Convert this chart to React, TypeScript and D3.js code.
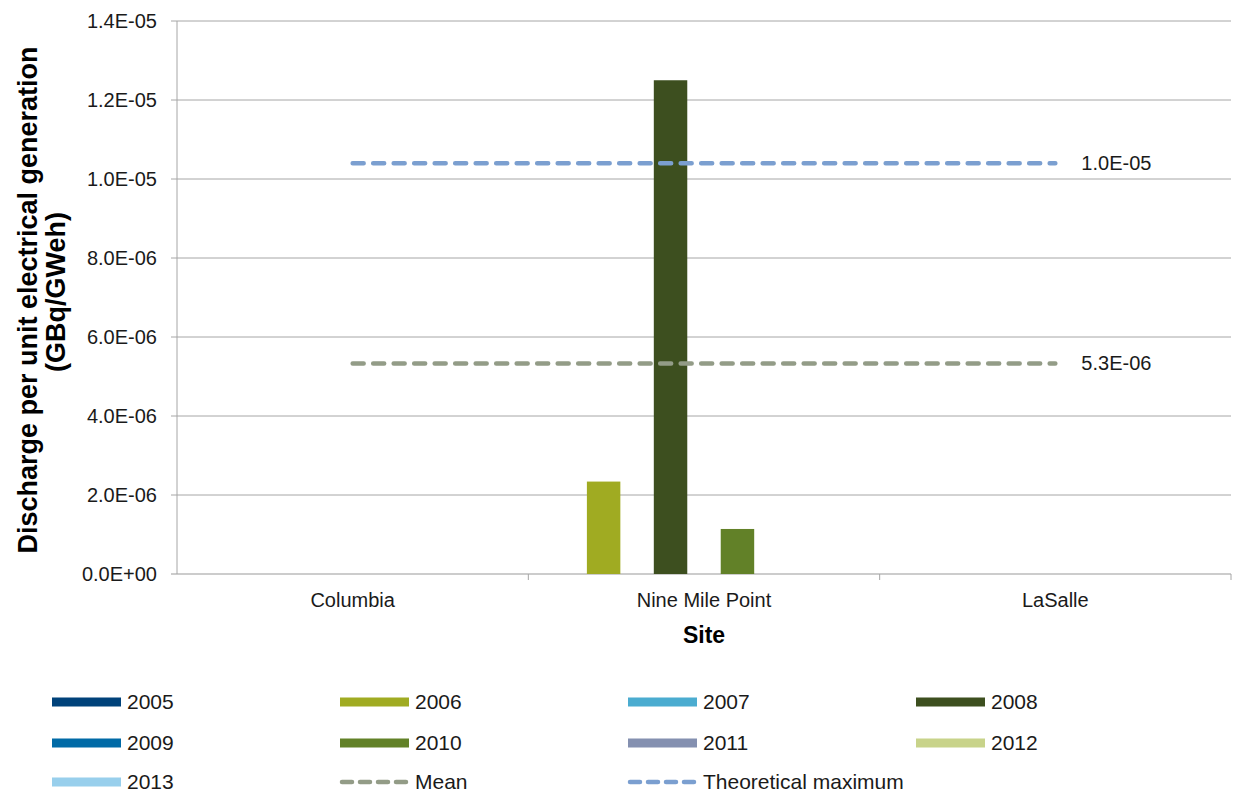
import React from 'react';
import * as d3 from 'd3';

const sites = ['Columbia', 'Nine Mile Point', 'LaSalle'];
const years = ['2005', '2006', '2007', '2008', '2009', '2010', '2011', '2012', '2013'];
const yearColors = ['#00427A', '#A0AB22', '#4BACD0', '#3D4F1F', '#006AA6', '#628128', '#8490B0', '#C8D38A', '#98CFEC'];
// values per year, per site (null = no data)
const v2005 = [null, null, null];
const v2006 = [null, 2.34e-6, null];
const v2007 = [null, null, null];
const v2008 = [null, 1.25e-5, null];
const v2009 = [null, null, null];
const v2010 = [null, 1.14e-6, null];
const v2011 = [null, null, null];
const v2012 = [null, null, null];
const v2013 = [null, null, null];
const meanValue = 5.33e-6;
const theoreticalMax = 1.04e-5;
const yTicks = [0, 2e-6, 4e-6, 6e-6, 8e-6, 1e-5, 1.2e-5, 1.4e-5];

const seriesValues = [v2005, v2006, v2007, v2008, v2009, v2010, v2011, v2012, v2013];

const W = 1234;
const H = 793;
const margin = { left: 177, right: 3, top: 21, bottom: 219 };
const font = 'Arial, "Liberation Sans", sans-serif';
const ink = '#1a1a1a';

export default function App() {
  const x = d3.scaleBand().domain(sites).range([margin.left, W - margin.right]);
  const inner = d3.scaleBand().domain(years).range([0, x.bandwidth()]).paddingOuter(0.75).paddingInner(0);
  const y = d3.scaleLinear().domain([0, 1.4e-5]).range([H - margin.bottom, margin.top]);
  const fmt = (v: number) => v.toExponential(1).toUpperCase().replace(/E([+-])(\d)$/, 'E$10$2');

  const lineX0 = x(sites[0])! + x.bandwidth() / 2;
  const lineX1 = x(sites[sites.length - 1])! + x.bandwidth() / 2;

  const legendItems = [
    ...years.map((yr, i) => ({ label: yr, type: 'bar', color: yearColors[i] })),
    { label: 'Mean', type: 'dash', color: '#939C87' },
    { label: 'Theoretical maximum', type: 'dash', color: '#7B9FD0' },
  ];
  const legendCols = [52, 340, 628, 916];
  const legendRows = [702, 743, 782];

  return (
    <svg width={W} height={H} style={{ position: 'absolute', left: 0, top: 0 }} fontFamily={font}>
      {/* gridlines */}
      {yTicks.map((t) => (
        <line key={t} x1={margin.left - 6} x2={W - margin.right} y1={y(t)} y2={y(t)}
          stroke={t === 0 ? '#999' : '#A6A6A6'} strokeWidth={1} />
      ))}
      <line x1={margin.left} x2={margin.left} y1={margin.top} y2={y(0)} stroke="#A6A6A6" />
      {sites.map((s, i) => i > 0 && (
        <line key={s} x1={x(s)} x2={x(s)} y1={y(0)} y2={y(0) + 6} stroke="#A6A6A6" />
      ))}
      <line x1={W - margin.right} x2={W - margin.right} y1={y(0)} y2={y(0) + 6} stroke="#A6A6A6" />
      {/* y tick labels */}
      {yTicks.map((t) => (
        <text key={t} x={margin.left - 20} y={y(t)} dy="0.35em" textAnchor="end" fontSize={20} fill={ink}>
          {fmt(t)}
        </text>
      ))}
      {/* bars */}
      {years.map((yr, i) =>
        seriesValues[i].map((v, j) =>
          v == null ? null : (
            <rect key={yr + j} x={x(sites[j])! + inner(yr)!} width={inner.bandwidth()}
              y={y(v)} height={y(0) - y(v)} fill={yearColors[i]} />
          ))
      )}
      {/* reference lines */}
      <line x1={lineX0} x2={lineX1} y1={y(theoreticalMax)} y2={y(theoreticalMax)}
        stroke="#7B9FD0" strokeWidth={4.5} strokeDasharray="11 9.5" strokeLinecap="round" />
      <line x1={lineX0} x2={lineX1} y1={y(meanValue)} y2={y(meanValue)}
        stroke="#939C87" strokeWidth={4.5} strokeDasharray="11 9.5" strokeLinecap="round" />
      <text x={lineX1 + 26} y={y(theoreticalMax)} dy="0.35em" fontSize={20} fill={ink}>{fmt(theoreticalMax)}</text>
      <text x={lineX1 + 26} y={y(meanValue)} dy="0.35em" fontSize={20} fill={ink}>{fmt(meanValue)}</text>
      {/* x labels */}
      {sites.map((s) => (
        <text key={s} x={x(s)! + x.bandwidth() / 2} y={y(0) + 33} textAnchor="middle" fontSize={20} fill={ink}>{s}</text>
      ))}
      <text x={x(sites[1])! + x.bandwidth() / 2} y={y(0) + 69} textAnchor="middle" fontSize={23} fontWeight="bold" fill="#000">Site</text>
      {/* y title */}
      <g transform={`translate(28, 300) rotate(-90)`}>
        <text x={0} y={0} dy="0.35em" textAnchor="middle" fontSize={27} fontWeight="bold" fill="#000">Discharge per unit electrical generation</text>
        <text x={8} y={28} dy="0.35em" textAnchor="middle" fontSize={27} fontWeight="bold" fill="#000">(GBq/GWeh)</text>
      </g>
      {/* legend */}
      {legendItems.map((it, k) => {
        const lx = legendCols[k % 4];
        const ly = legendRows[Math.floor(k / 4)];
        return (
          <g key={it.label} transform={`translate(${lx}, ${ly})`}>
            {it.type === 'bar' ? (
              <rect x={0} y={-4.5} width={69} height={9} fill={it.color} />
            ) : (
              <line x1={2} x2={67} y1={0} y2={0} stroke={it.color} strokeWidth={4.5} strokeDasharray="10 8" strokeLinecap="round" />
            )}
            <text x={75} y={0} dy="0.35em" fontSize={21} fill={ink}>{it.label}</text>
          </g>
        );
      })}
    </svg>
  );
}
